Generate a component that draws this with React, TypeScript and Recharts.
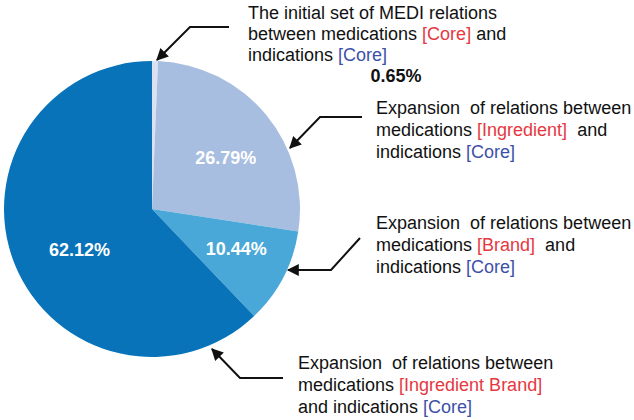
import React from 'react';
import { PieChart, Pie, Cell, Customized } from 'recharts';

// MEDI relations by expansion step, share of all relations (%)
const categories = ['Core', 'Ingredient', 'Brand', 'Ingredient Brand'];
const shares = [0.65, 26.79, 10.44, 62.12];
const shareLabels = ['0.65%', '26.79%', '10.44%', '62.12%'];

const colors = ['#dbe1f0', '#a8bee0', '#49a8d7', '#0873b8'];
const RED = '#e5383f';
const BLUE = '#3d50a8';
const FONT = '"Liberation Sans", Arial, sans-serif';

const data = categories.map((name, i) => ({ name, value: shares[i], label: shareLabels[i] }));

const RADIAN = Math.PI / 180;
// small nudges so the inside labels sit where the original placed them
const nudgeY = [0, 7, -2, 11];

function renderInside(props: any) {
  const { cx, cy, midAngle, outerRadius, index } = props;
  if (index === 0) return null;
  const r = outerRadius * (index === 3 ? 0.55 : 0.62);
  const x = cx + r * Math.cos(-midAngle * RADIAN);
  const y = cy + r * Math.sin(-midAngle * RADIAN);
  return (
    <text
      x={x + 3}
      y={y + nudgeY[index]}
      fill="#fff"
      textAnchor="middle"
      dominantBaseline="central"
      fontFamily={FONT}
      fontSize={18}
      fontWeight="bold"
    >
      {data[index].label}
    </text>
  );
}

function Notes() {
  const txt = { fontFamily: FONT, fontSize: 18, fill: '#111' };
  const arrow = { stroke: '#111', strokeWidth: 2, fill: 'none', markerEnd: 'url(#head)' };
  return (
    <g>
      <defs>
        <marker id="head" viewBox="0 0 10 10" refX="9" refY="5" markerWidth="7" markerHeight="6" orient="auto-start-reverse" markerUnits="strokeWidth">
          <path d="M0,0 L10,5 L0,10 z" fill="#111" />
        </marker>
      </defs>

      <polyline points="229,27 190,27 157,60" {...arrow} />
      <text {...txt} x={248} y={19}>The initial set of MEDI relations</text>
      <text {...txt} x={248} y={40}>
        between medications <tspan fill={RED}>[Core]</tspan> and
      </text>
      <text {...txt} x={248} y={61}>
        indications <tspan fill={BLUE}>[Core]</tspan>
      </text>
      <text {...txt} x={396} y={82} textAnchor="middle" fontWeight="bold">{data[0].label}</text>

      <polyline points="362,117 320,117 290,148" {...arrow} />
      <text {...txt} x={376} y={114} xmlSpace="preserve">Expansion  of relations between</text>
      <text {...txt} x={376} y={136} xmlSpace="preserve">
        medications <tspan fill={RED}>[Ingredient]</tspan>  and
      </text>
      <text {...txt} x={376} y={158}>
        indications <tspan fill={BLUE}>[Core]</tspan>
      </text>

      <polyline points="360,238 331,270 288,270" {...arrow} />
      <text {...txt} x={376} y={229} xmlSpace="preserve">Expansion  of relations between</text>
      <text {...txt} x={376} y={251} xmlSpace="preserve">
        medications <tspan fill={RED}>[Brand]</tspan>  and
      </text>
      <text {...txt} x={376} y={273}>
        indications <tspan fill={BLUE}>[Core]</tspan>
      </text>

      <polyline points="283,378 240,378 212,349" {...arrow} />
      <text {...txt} x={298} y={369} xmlSpace="preserve">Expansion  of relations between</text>
      <text {...txt} x={298} y={391}>
        medications <tspan fill={RED}>[Ingredient Brand]</tspan>
      </text>
      <text {...txt} x={298} y={413}>
        and indications <tspan fill={BLUE}>[Core]</tspan>
      </text>
    </g>
  );
}

export default function App() {
  return (
    <div style={{ position: 'absolute', left: 0, top: 0, background: '#fff' }}>
      <PieChart width={634} height={420} margin={{ top: 0, right: 0, bottom: 0, left: 0 }}>
        <Pie
          data={data}
          dataKey="value"
          nameKey="name"
          cx={152}
          cy={209}
          outerRadius={148}
          startAngle={90}
          endAngle={-270}
          stroke="none"
          labelLine={false}
          label={renderInside}
          isAnimationActive={false}
        >
          {data.map((d, i) => (
            <Cell key={d.name} fill={colors[i]} />
          ))}
        </Pie>
        <Customized component={<Notes />} />
      </PieChart>
    </div>
  );
}
